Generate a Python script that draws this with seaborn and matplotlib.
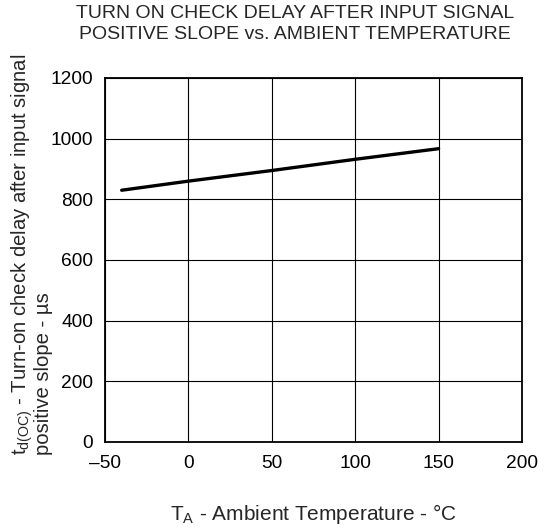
import matplotlib
matplotlib.use("Agg")
import matplotlib.pyplot as plt
import matplotlib.ticker as mticker
import seaborn as sns
import pandas as pd

# data
temp_c = [-40, 0, 50, 100, 150]
delay_us = [830, 860, 895, 932, 967]

x_ticks = [-50, 0, 50, 100, 150, 200]
y_ticks = [0, 200, 400, 600, 800, 1000, 1200]

title = "TURN ON CHECK DELAY AFTER INPUT SIGNAL\nPOSITIVE SLOPE vs. AMBIENT TEMPERATURE"
x_label = r"T$_\mathregular{A}$ - Ambient Temperature - °C"
y_label = ("t$_\\mathregular{d(OC)}$ - Turn-on check delay after input signal\n"
           "positive slope - µs")

sns.set_style("white")
plt.rcParams["font.family"] = ["Liberation Sans", "DejaVu Sans"]
plt.rcParams["mathtext.fontset"] = "custom"
plt.rcParams["mathtext.rm"] = "Liberation Sans"

df = pd.DataFrame({"temp": temp_c, "delay": delay_us})

fig = plt.figure(figsize=(5.52, 5.31), dpi=100)
ax = fig.add_axes([105 / 552, 1 - 442 / 531, 417 / 552, 364 / 531])

sns.lineplot(data=df, x="temp", y="delay", color="black", linewidth=2.4, ax=ax)

ax.set_xlim(-50, 200)
ax.set_ylim(0, 1200)
ax.set_xticks(x_ticks)
ax.set_yticks(y_ticks)
ax.xaxis.set_major_formatter(mticker.FuncFormatter(lambda v, p: f"{v:g}".replace("-", "–")))
ax.grid(True, color="black", linewidth=0.8)
ax.tick_params(length=0, labelsize=13.8, colors="black")
ax.tick_params(axis="x", pad=9)
ax.tick_params(axis="y", pad=8.5)
for s in ax.spines.values():
    s.set_color("black")
    s.set_linewidth(1.3)
ax.set_xlabel("")
ax.set_ylabel("")

fig.text(295 / 552, 1 - 24 / 531, title, ha="center", va="center",
         fontsize=14, linespacing=1.25)
fig.text(313 / 552, 1 - 514 / 531, x_label, ha="center", va="center", fontsize=15)
fig.text(31 / 552, 1 - 455 / 531, y_label, ha="center", va="bottom", rotation=90,
         fontsize=14.6, multialignment="left", linespacing=0.95)

fig.savefig("out.png", dpi=100)
